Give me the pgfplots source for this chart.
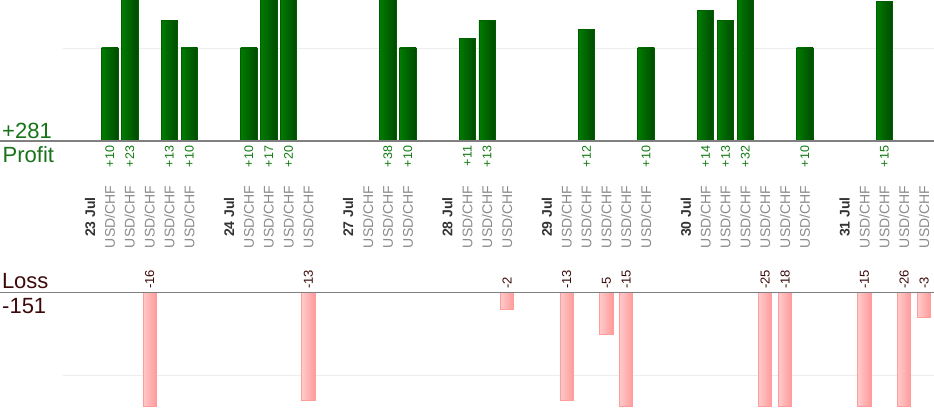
\documentclass[border=0pt]{standalone}
\usepackage{fontspec}
\setmainfont{Liberation Sans}
\usepackage{pgfplots}
\usepackage{pgfplotstable}
\pgfplotsset{compat=1.18}

\definecolor{gA}{HTML}{007C00}
\definecolor{gB}{HTML}{004A00}
\definecolor{gEdge}{HTML}{005E00}
\definecolor{pA}{HTML}{FFCACA}
\definecolor{pB}{HTML}{FF9A9A}
\definecolor{pEdge}{HTML}{FF9C9C}
\definecolor{profitc}{HTML}{177317}
\definecolor{proflab}{HTML}{0E7A0E}
\definecolor{lossc}{HTML}{3C0A0A}
\definecolor{catc}{HTML}{8A8A8A}
\definecolor{datec}{HTML}{333333}
\definecolor{basec}{HTML}{808080}
\definecolor{gridc}{HTML}{EDEDED}

\newcommand\pv[1]{+\kern1.3pt#1}

\pgfplotstableread{
x y lab
1 10 \pv{10}
2 23 \pv{23}
4 13 \pv{13}
5 10 \pv{10}
8 10 \pv{10}
9 17 \pv{17}
10 20 \pv{20}
15 38 \pv{38}
16 10 \pv{10}
19 11 \pv{11}
20 13 \pv{13}
25 12 \pv{12}
28 10 \pv{10}
31 14 \pv{14}
32 13 \pv{13}
33 32 \pv{32}
36 10 \pv{10}
40 15 \pv{15}
}\profit

\pgfplotstableread{
x y lab
3 -16 -16
11 -13 -13
21 -2 -2
24 -13 -13
26 -5 -5
27 -15 -15
34 -25 -25
35 -18 -18
39 -15 -15
41 -26 -26
42 -3 -3
}\loss

\newcommand\U{USD/CHF}
\newcommand\D[1]{{\bfseries\color{datec}#1}}

\begin{document}
\begin{tikzpicture}
\path[use as bounding box] (0pt,0pt) rectangle (934pt,420pt);

% profit axis
\begin{axis}[
  at={(63pt,279pt)}, anchor=south west,
  width=871pt, height=141pt, scale only axis,
  xmin=-1.36, xmax=42.5, ymin=0, ymax=15.16,
  axis line style={draw=none},
  major tick length=0pt,
  ytick={10}, yticklabels={},
  ymajorgrids, grid style={draw=gridc, line width=0.9pt},
  xtick={1,2,4,5,8,9,10,15,16,19,20,25,28,31,32,33,36,40},
  xticklabels from table={\profit}{lab},
  xticklabel style={yshift=-4pt, rotate=90, anchor=east, inner sep=0pt,
    text=proflab, font=\fontsize{12.5}{14}\selectfont},
]
\pgfplotsinvokeforeach{1,2,4,5,8,9,10,15,16,19,20,25,28,31,32,33,36,40}{
\addplot[ybar, bar shift=0pt, bar width=16.5pt, draw=gEdge, line width=0.8pt,
  left color=gA, right color=gB,
  restrict x to domain=#1:#1] table[x=x,y=y]{\profit};
}
\end{axis}

% loss axis
\begin{axis}[
  at={(63pt,127.7pt)}, anchor=north west,
  width=871pt, height=114.4pt, scale only axis,
  xmin=-1.36, xmax=42.5, ymin=-13.7, ymax=0,
  axis line style={draw=none},
  major tick length=0pt,
  ytick={-10}, yticklabels={},
  ymajorgrids, grid style={draw=gridc, line width=0.9pt},
  xtick={3,11,21,24,26,27,34,35,39,41,42},
  xticklabel pos=upper,
  xticklabels from table={\loss}{lab},
  xticklabel style={yshift=3.5pt, rotate=90, anchor=west, inner sep=0pt,
    text=lossc, font=\fontsize{13}{15}\selectfont},
]
\pgfplotsinvokeforeach{3,11,21,24,26,27,34,35,39,41,42}{
\addplot[ybar, bar shift=0pt, bar width=13.3pt, draw=pEdge, line width=0.8pt,
  left color=pA, right color=pB,
  restrict x to domain=#1:#1,
  y filter/.expression={y<-13.62 ? -13.62 : y}] table[x=x,y=y]{\loss};
}
\end{axis}

% category labels
\begin{axis}[
  at={(63pt,203pt)}, anchor=south west,
  width=871pt, height=10pt, scale only axis,
  xmin=-1.36, xmax=42.5, ymin=0, ymax=1,
  axis line style={draw=none},
  major tick length=0pt,
  ytick=\empty,
  xtick={0,1,2,3,4,5,7,8,9,10,11,13,14,15,16,18,19,20,21,23,24,25,26,27,28,30,31,32,33,34,35,36,38,39,40,41,42},
  xticklabels={{\D{23 Jul}},\U,\U,\U,\U,\U,{\D{24 Jul}},\U,\U,\U,\U,{\D{27 Jul}},\U,\U,\U,{\D{28 Jul}},\U,\U,\U,{\D{29 Jul}},\U,\U,\U,\U,\U,{\D{30 Jul}},\U,\U,\U,\U,\U,\U,{\D{31 Jul}},\U,\U,\U,\U},
  xticklabel style={rotate=90, anchor=center, inner sep=0pt,
    text=catc, font=\fontsize{14}{16}\selectfont},
]
\end{axis}

% baselines
\draw[basec, line width=1.3pt] (0pt,279pt) -- (934pt,279pt);
\draw[basec, line width=1.3pt] (0pt,127.7pt) -- (934pt,127.7pt);

% side labels
\node[anchor=base west, inner sep=0pt, text=profitc, font=\fontsize{22}{24}\selectfont] at (2pt,281.7pt) {+281};
\node[anchor=base west, inner sep=0pt, text=profitc, font=\fontsize{22}{24}\selectfont] at (2.5pt,257.3pt) {Profit};
\node[anchor=base west, inner sep=0pt, text=lossc, font=\fontsize{22}{24}\selectfont] at (1.8pt,131.7pt) {Loss};
\node[anchor=base west, inner sep=0pt, text=lossc, font=\fontsize{22}{24}\selectfont] at (2pt,106pt) {-151};
\end{tikzpicture}
\end{document}
